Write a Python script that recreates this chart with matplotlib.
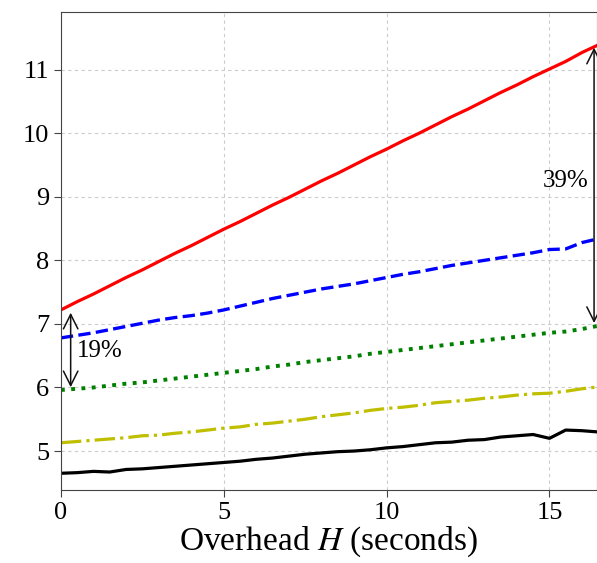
import numpy as np
import matplotlib
matplotlib.use("Agg")
import matplotlib.pyplot as plt

plt.rcParams['font.family'] = ['Liberation Serif', 'DejaVu Serif']
plt.rcParams['mathtext.fontset'] = 'stix'

# overhead H (seconds), sampled every half second
overhead = np.arange(0, 16.51, 0.5)

red_vals = [7.22, 7.35, 7.47, 7.60, 7.73, 7.85, 7.98, 8.11, 8.23, 8.36, 8.49, 8.61,
            8.74, 8.87, 8.99, 9.12, 9.25, 9.37, 9.50, 9.63, 9.75, 9.88, 10.00, 10.13,
            10.26, 10.38, 10.51, 10.64, 10.76, 10.89, 11.01, 11.13, 11.27, 11.39]
blue_vals = [6.78, 6.82, 6.86, 6.91, 6.96, 7.01, 7.06, 7.10, 7.13, 7.17, 7.22, 7.28,
             7.34, 7.40, 7.45, 7.50, 7.55, 7.59, 7.63, 7.68, 7.73, 7.78, 7.82, 7.87,
             7.92, 7.96, 8.00, 8.04, 8.08, 8.12, 8.17, 8.18, 8.28, 8.34]
green_vals = [5.96, 5.98, 6.00, 6.03, 6.06, 6.08, 6.11, 6.14, 6.17, 6.20, 6.23, 6.26,
              6.29, 6.33, 6.36, 6.40, 6.43, 6.46, 6.49, 6.53, 6.56, 6.59, 6.62, 6.65,
              6.68, 6.71, 6.74, 6.77, 6.80, 6.83, 6.86, 6.88, 6.92, 6.97]
yellow_vals = [5.13, 5.15, 5.17, 5.19, 5.21, 5.24, 5.25, 5.28, 5.30, 5.33, 5.36, 5.38,
               5.42, 5.44, 5.47, 5.50, 5.54, 5.57, 5.60, 5.64, 5.67, 5.69, 5.72, 5.76,
               5.78, 5.80, 5.83, 5.85, 5.88, 5.90, 5.91, 5.94, 5.98, 6.01]
black_vals = [4.65, 4.66, 4.68, 4.67, 4.71, 4.72, 4.74, 4.76, 4.78, 4.80, 4.82, 4.84,
              4.87, 4.89, 4.92, 4.95, 4.97, 4.99, 5.00, 5.02, 5.05, 5.07, 5.10, 5.13,
              5.14, 5.17, 5.18, 5.22, 5.24, 5.26, 5.20, 5.33, 5.32, 5.30]

fig = plt.figure(figsize=(5.97, 5.63), dpi=100)
ax = fig.add_axes([0.102, 0.130, 0.898, 0.849])

ax.plot(overhead, red_vals, color='r', lw=2.3, ls='-')
ax.plot(overhead, blue_vals, color='b', lw=2.4, ls='--')
ax.plot(overhead, green_vals, color='g', lw=2.8, ls=':')
ax.plot(overhead, yellow_vals, color='y', lw=2.3, ls='-.')
ax.plot(overhead, black_vals, color='k', lw=2.3, ls='-')

# gap arrows at both ends
arrow = dict(arrowstyle='<->', color='#111111', lw=1.1, mutation_scale=26)
ax.annotate('', xy=(0.3, green_vals[0]), xytext=(0.3, red_vals[0]), arrowprops=arrow)
ax.text(0.5, 6.57, '19%', fontsize=18, ha='left', va='center')
ax.annotate('', xy=(16.37, green_vals[-1]), xytext=(16.37, red_vals[-1]), arrowprops=arrow)
ax.text(16.2, 9.25, '39%', fontsize=18, ha='right', va='center')

ax.set_xlim(0, 16.46)
ax.set_ylim(4.39, 11.91)
ax.set_xticks([0, 5, 10, 15])
ax.set_yticks([5, 6, 7, 8, 9, 10, 11])
ax.tick_params(labelsize=19, length=5, color='#444444')
ax.grid(True, color='#cccccc', ls=(0, (3, 3)), lw=0.8)
for s in ax.spines.values():
    s.set_color('#444444')
ax.set_xlabel('Overhead $H$ (seconds)', fontsize=24, labelpad=1)

fig.savefig('out.png', dpi=100)
